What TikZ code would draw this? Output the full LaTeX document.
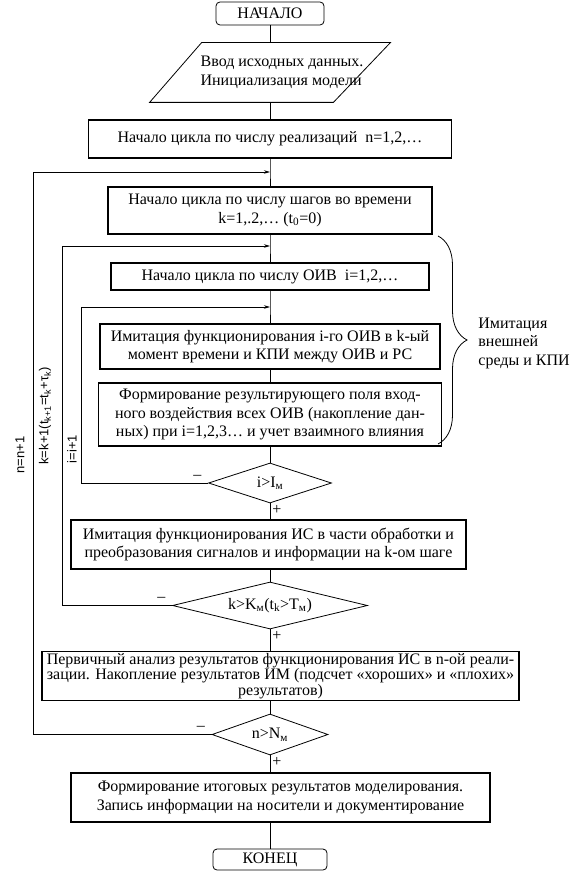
\documentclass[tikz,border=0pt]{standalone}
\usepackage{fontspec}
\setmainfont{Liberation Serif}
\newfontfamily\sansfam{Liberation Sans}
\usetikzlibrary{shapes.geometric,arrows.meta,decorations.pathreplacing}

\begin{document}
\begin{tikzpicture}[x=1pt,y=-1pt,
  font=\fontsize{16}{18.5}\selectfont,
  line width=0.8pt,
  >={Stealth[length=6pt,width=3.5pt]},
  blk/.style={draw,line width=1.4pt,inner sep=0pt,align=center},
  term/.style={draw,rounded corners=4pt,inner sep=0pt},
  cond/.style={draw,diamond,shape aspect=4,inner sep=0pt},
  looplbl/.style={font=\sansfam\fontsize{13}{15}\selectfont,rotate=90}]
\useasboundingbox (0,0) rectangle (572,874);
% main column
\node[term,minimum width=108,minimum height=23] (start) at (270,13.5) {НАЧАЛО};
\node[minimum width=240,minimum height=59,inner sep=0pt] (input) at (270,72.5) {};
\draw (input.south west) -- ([xshift=52pt]input.north west) -- (input.north east)
  -- ([xshift=-57pt]input.south east) -- cycle;
\node[align=left,inner sep=0pt] (inputtxt) at ([xshift=12pt]input.center)
  {Ввод исходных данных.\\Инициализация модели};
\node[blk,minimum width=363,minimum height=38] (realiz) at (270,139)
  {Начало цикла по числу реализаций\ \ n=1,2,…};
\coordinate (jn) at (270,172);
\node[blk,minimum width=324,minimum height=47] (steps) at (270,210.5)
  {Начало цикла по числу шагов во времени\\k=1,.2,… (t\textsubscript{0}=0)};
\coordinate (jk) at (270,246);
\node[blk,minimum width=318,minimum height=27] (oiv) at (270,276.5)
  {Начало цикла по числу ОИВ\ \ i=1,2,…};
\coordinate (ji) at (270,307);
\node[blk,minimum width=340,minimum height=45] (imoiv) at (270,346.5)
  {Имитация функционирования i-го ОИВ в k-ый\\момент времени и КПИ между ОИВ и РС};
\node[blk,minimum width=343,minimum height=63] (field) at (270,414.5)
  {Формирование результирующего поля вход-\\ного воздействия всех ОИВ (накопление дан-\\ных) при i=1,2,3… и учет взаимного влияния};
\node[cond,minimum width=123,minimum height=40] (ci) at (270,483) {i>I\textsubscript{м}};
\node[blk,minimum width=395,minimum height=49] (imis) at (268.5,544.5)
  {Имитация функционирования ИС в части обработки и\\преобразования сигналов и информации на k-ом шаге};
\node[cond,minimum width=195,minimum height=47] (ck) at (270,605.5)
  {k>K\textsubscript{м}(t\textsubscript{k}>T\textsubscript{м})};
\node[blk,minimum width=477,minimum height=49,font=\fontsize{16}{15.5}\selectfont]
  (anal) at (280.5,676)
  {Первичный анализ результатов функционирования ИС в n-ой реали-\\зации. Накопление результатов ИМ (подсчет «хороших» и «плохих»\\результатов)};
\node[cond,minimum width=116,minimum height=41] (cn) at (270,734.5) {n>N\textsubscript{м}};
\node[blk,minimum width=419,minimum height=49] (final) at (280.5,797.5)
  {Формирование итоговых результатов моделирования.\\Запись информации на носители и документирование};
\node[term,minimum width=114,minimum height=21] (stop) at (270,859.5) {КОНЕЦ};
% connectors
\draw (start) -- (input) -- (realiz) -- (jn) -- (steps) -- (jk) -- (oiv) -- (ji)
  -- (imoiv) -- (field) -- (ci);
\draw (ci) -- (ci |- imis.north);
\draw (imis.south -| ck) -- (ck);
\draw (ck) -- (ck |- anal.north);
\draw (anal.south -| cn) -- (cn);
\draw (cn) -- (cn |- final.north);
\draw (final.south -| stop) -- (stop);
% loops back
\coordinate (li) at (81,307);
\coordinate (lk) at (62,246);
\coordinate (ln) at (33,172);
\draw[->] (ci.west) node[above left,xshift=-3pt]{–} -| (li) -- (ji);
\draw[->] (ck.west) node[above left,xshift=-3pt]{–} -| (lk) -- (jk);
\draw[->] (cn.west) node[above left,xshift=-3pt]{–} -| (ln) -- (jn);
\node[below right,inner sep=2pt] at (ci.south) {+};
\node[below right,inner sep=2pt] at (ck.south) {+};
\node[below right,inner sep=2pt] at (cn.south) {+};
\node[looplbl] (incn) at (20,455) {n=n+1};
\node[looplbl] (inck) at (45,416) {k=k+1(t\textsubscript{k+1}=t\textsubscript{k}+τ\textsubscript{k})};
\node[looplbl] (inci) at (72,449) {i=i+1};
% brace
\draw[decorate,decoration={brace,amplitude=29pt}] (438,236) -- (438,444);
\node[right,align=left,inner sep=0pt] (env) at (478,343) {Имитация\\внешней\\среды и КПИ};
\end{tikzpicture}
\end{document}
